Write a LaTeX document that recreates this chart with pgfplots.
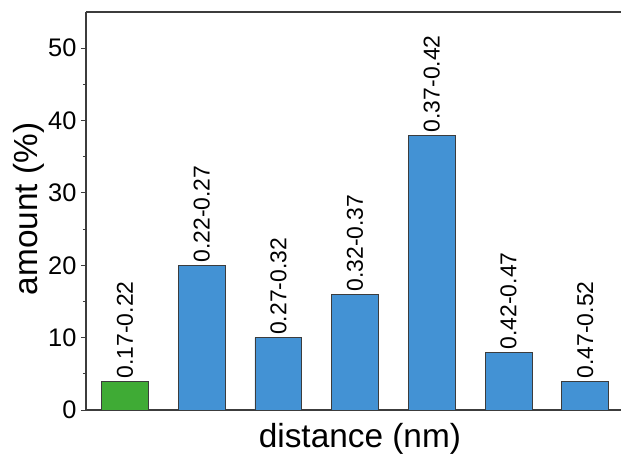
\documentclass[border=0pt]{standalone}
\usepackage{pgfplots}
\pgfplotsset{compat=1.18}
\usepackage{pgfplotstable}
\usepackage{fontspec}
\setmainfont{Liberation Sans}
\definecolor{barblue}{RGB}{67,146,212}
\definecolor{bargreen}{RGB}{63,171,53}
\definecolor{axgray}{RGB}{60,60,60}
\pgfplotstableread{
x y lab
0 4 0.17-0.22
}\greendata
\pgfplotstableread{
x y lab
1 20 0.22-0.27
2 10 0.27-0.32
3 16 0.32-0.37
4 38 0.37-0.42
5 8 0.42-0.47
6 4 0.47-0.52
}\bluedata
\begin{document}
\begin{tikzpicture}[x=1bp,y=1bp]
\useasboundingbox (-86bp,-47bp) rectangle (535bp,410bp);
\begin{axis}[
  at={(0,0)}, anchor=south west,
  scale only axis, width=535bp, height=398bp,
  xmin=-0.508, xmax=6.467, ymin=0, ymax=55,
  axis x line=box, axis y line=left,
  y axis line style={-},
  axis line style={axgray, line width=1.2bp},
  xtick=\empty,
  ytick={0,10,20,30,40,50},
  minor ytick={5,15,25,35,45},
  ytick pos=left,
  tick align=outside,
  major tick length=5bp, minor tick length=3bp,
  every tick/.style={axgray, line width=1bp},
  /pgf/number format/assume math mode=true,
  ticklabel style={font=\fontsize{25.5}{28}\selectfont},
  yticklabel style={xshift=-1bp},
  ylabel={amount (\%)},
  ylabel style={font=\fontsize{33.5}{38}\selectfont, at={(axis description cs:-0.1065,0.505)}, anchor=center},
  xlabel={distance (nm)},
  xlabel style={font=\fontsize{33.5}{38}\selectfont, at={(axis description cs:0.512,-0.025)}, anchor=north},
  ybar, bar width=0.61, bar shift=0pt,
  clip=false,
  nodes near coords,
  point meta=explicit symbolic,
  every node near coord/.style={rotate=90, anchor=west, font=\fontsize{23}{26}\selectfont, inner sep=2.5bp, black},
]
\addplot[fill=bargreen, draw=axgray, line width=0.6bp] table[x=x, y=y, meta=lab] {\greendata};
\addplot[fill=barblue, draw=axgray, line width=0.6bp] table[x=x, y=y, meta=lab] {\bluedata};
\end{axis}
\end{tikzpicture}
\end{document}
